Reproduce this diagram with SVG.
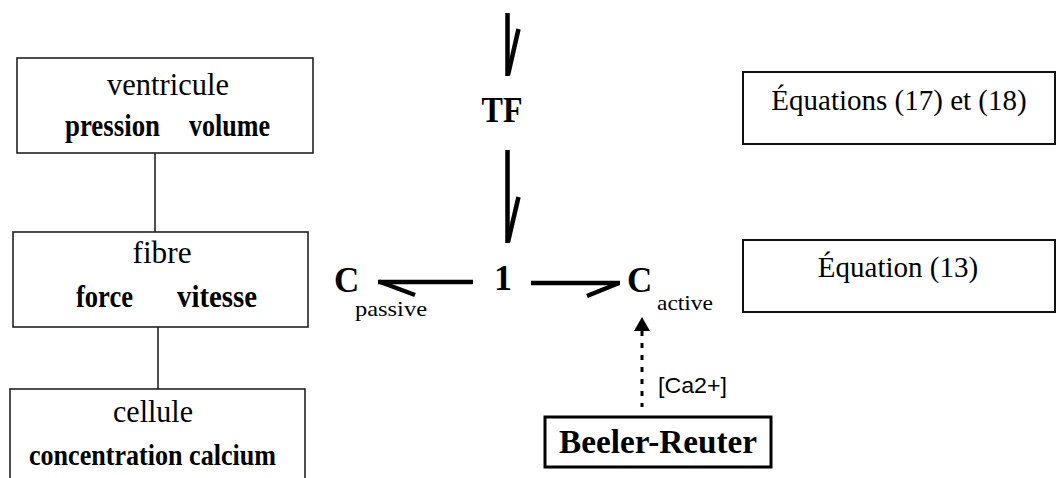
<svg xmlns="http://www.w3.org/2000/svg" width="1057" height="478" viewBox="0 0 1057 478">
<style>
.box{fill:#fff;stroke:#222;stroke-width:1.6}
.eq{fill:#fff;stroke:#111;stroke-width:2}
.br{fill:#fff;stroke:#000;stroke-width:3}
.t{font-family:"Liberation Serif","Times New Roman",serif;fill:#000}
.b{font-family:"Liberation Serif","Times New Roman",serif;font-weight:bold;fill:#000}
.s{font-family:"Liberation Sans",Arial,sans-serif;fill:#000}
.link{stroke:#222;stroke-width:1.6;fill:none}
.bond{stroke:#000;stroke-width:4.5;fill:none;stroke-linecap:butt}
.harp{stroke:#000;stroke-width:4.5;fill:none;stroke-linecap:butt}
.dot{stroke:#000;stroke-width:3;fill:none;stroke-dasharray:5 7}
</style>
<rect width="1057" height="478" fill="#fff"/>
<g id="ventricule">
<rect class="box" x="17" y="58" width="296" height="95"/>
<text class="t" x="168" y="95" font-size="32" text-anchor="middle" textLength="122" lengthAdjust="spacingAndGlyphs">ventricule</text>
<text class="b" x="65" y="136" font-size="32" textLength="95" lengthAdjust="spacingAndGlyphs">pression</text>
<text class="b" x="189" y="136" font-size="32" textLength="81" lengthAdjust="spacingAndGlyphs">volume</text>
</g>
<g id="fibre">
<rect class="box" x="13" y="232" width="295" height="95"/>
<text class="t" x="162" y="263" font-size="32" text-anchor="middle" textLength="59" lengthAdjust="spacingAndGlyphs">fibre</text>
<text class="b" x="76" y="307" font-size="32" textLength="57" lengthAdjust="spacingAndGlyphs">force</text>
<text class="b" x="177" y="307" font-size="32" textLength="80" lengthAdjust="spacingAndGlyphs">vitesse</text>
</g>
<g id="cellule">
<rect class="box" x="10" y="389" width="295" height="100"/>
<text class="t" x="153" y="422" font-size="32" text-anchor="middle" textLength="80" lengthAdjust="spacingAndGlyphs">cellule</text>
<text class="b" x="29" y="465" font-size="30" textLength="247" lengthAdjust="spacingAndGlyphs">concentration calcium</text>
</g>
<g id="TF">
<text class="b" x="502" y="122" font-size="36" text-anchor="middle" textLength="41" lengthAdjust="spacingAndGlyphs">TF</text>
</g>
<g id="one">
<text class="b" x="503" y="290" font-size="36" text-anchor="middle">1</text>
</g>
<g id="Cpassive">
<text class="b" x="334" y="292" font-size="35">C</text>
<text class="t" x="355" y="316" font-size="22" textLength="72" lengthAdjust="spacingAndGlyphs">passive</text>
</g>
<g id="Cactive">
<text class="b" x="627" y="292" font-size="35">C</text>
<text class="t" x="657" y="310" font-size="22" textLength="56" lengthAdjust="spacingAndGlyphs">active</text>
</g>
<g id="beeler-reuter">
<rect class="br" x="545" y="417" width="226" height="50"/>
<text class="b" x="559" y="453" font-size="33" textLength="198" lengthAdjust="spacingAndGlyphs">Beeler-Reuter</text>
</g>
<g id="eq1718">
<rect class="eq" x="743" y="72" width="312" height="72"/>
<text class="t" x="899" y="110" font-size="29" text-anchor="middle">Équations (17) et (18)</text>
</g>
<g id="eq13">
<rect class="eq" x="743" y="240" width="312" height="72"/>
<text class="t" x="898" y="277" font-size="29" text-anchor="middle">Équation (13)</text>
</g>
<g id="connectors">
<line class="link" x1="155" y1="153" x2="155" y2="232"/>
<line class="link" x1="158" y1="327" x2="158" y2="389"/>
<line class="bond" x1="507.5" y1="13" x2="507.5" y2="76"/>
<line class="harp" x1="508" y1="75" x2="518.5" y2="29"/>
<line class="bond" x1="507.5" y1="150" x2="507.5" y2="243"/>
<line class="harp" x1="508" y1="242" x2="518.5" y2="197"/>
<line class="bond" x1="378" y1="282" x2="473" y2="282"/>
<line class="harp" x1="379" y1="281.5" x2="415" y2="295"/>
<line class="bond" x1="531" y1="283" x2="620" y2="283"/>
<line class="harp" x1="619" y1="283" x2="587" y2="296"/>
<line class="dot" x1="642" y1="331" x2="642" y2="407"/>
<polygon points="642,317 634,331 650,331" fill="#000"/>
<text class="s" x="658" y="393" font-size="22" textLength="69" lengthAdjust="spacingAndGlyphs">[Ca2+]</text>
</g>
</svg>
